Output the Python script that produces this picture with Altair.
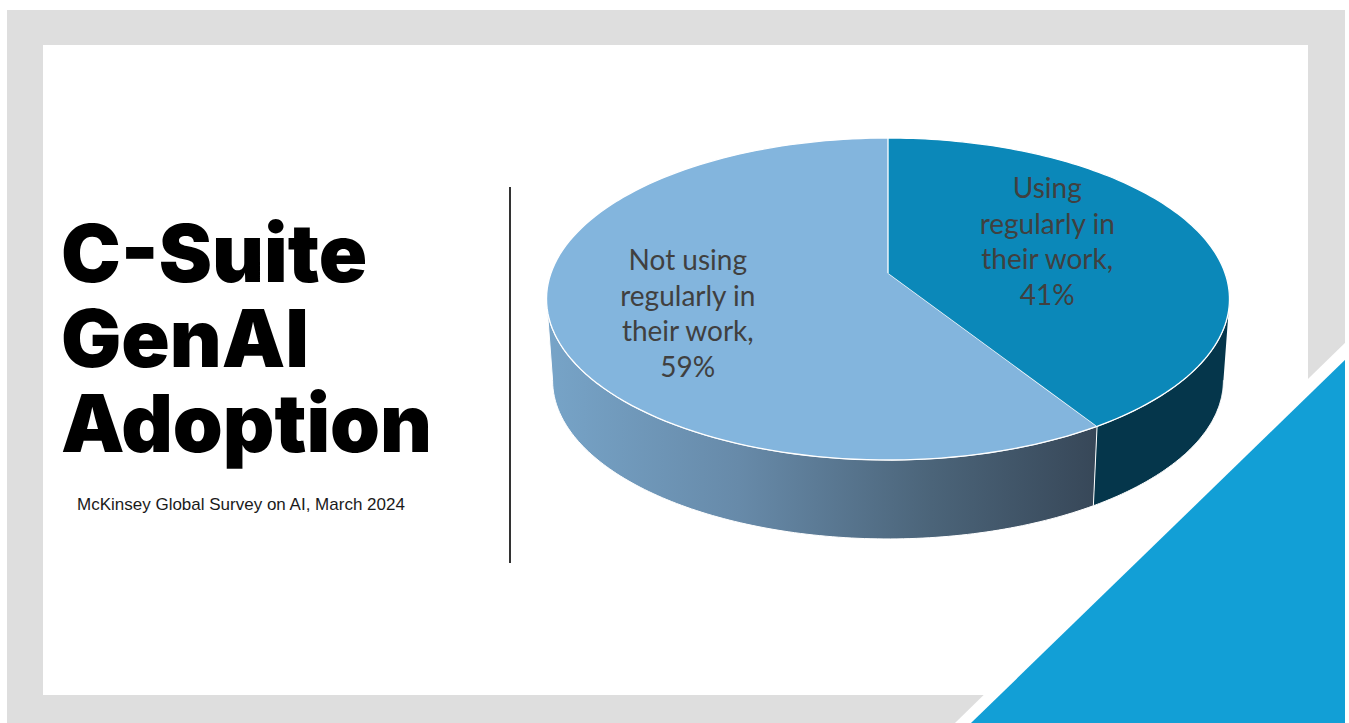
import math
import altair as alt
import pandas as pd

# ---------------- data ----------------
categories = ["Using regularly in their work", "Not using regularly in their work"]
values = [41, 59]

title_lines = ["C-Suite", "GenAI", "Adoption"]
subtitle = "McKinsey Global Survey on AI, March 2024"

# ---------------- layout / geometry constants (pixels) ----------------
W, H = 1349, 723
CX, CY = 888.0, 273.0          # projected centre of the pie top
A, B, K = 337.0, 156.8, -0.1615  # perspective of the top face
A2, B2, CY2 = 331.0, 154.4, 354.8  # perspective of the bottom face
N = 120
PHI_R = math.acos(K)
PHI_L = 2 * math.pi - PHI_R
LBL_SIZE, LBL_LH = 28, 35.5
LBL_RX, LBL_RY, LBL_DX, LBL_DY = 0.555, 0.82, -16, 5.2 - 1.5 * 35.5

TOP_COLORS = ["#0b88b9", "#83b5dd"]
WALL_DARK = "#05364b"
WALL_GRAD = alt.LinearGradient(
    gradient="linear",
    stops=[
        alt.GradientStop(color="#77a4c8", offset=0),
        alt.GradientStop(color="#678aa9", offset=0.35),
        alt.GradientStop(color="#4b6479", offset=0.7),
        alt.GradientStop(color="#374758", offset=1),
    ],
    x1=0, x2=1, y1=0, y2=0,
)

df = pd.DataFrame({"category": categories, "value": values})
one = pd.DataFrame({"k": [0]})

xs = alt.Scale(domain=[0, W], nice=False, zero=False)
ys = alt.Scale(domain=[0, H], nice=False, zero=False, reverse=True)


def X(f):
    return alt.X(f"{f}:Q", scale=xs, axis=None)


def Y(f):
    return alt.Y(f"{f}:Q", scale=ys, axis=None)


def rect(x, x2, y, y2, color):
    return alt.Chart(one).mark_rect(color=color).encode(
        x=alt.value(x), x2=alt.value(x2), y=alt.value(y), y2=alt.value(y2)
    )


def corner_fill(p1, p2, color, half=420, ext=1300):
    dx, dy = p2[0] - p1[0], p2[1] - p1[1]
    L = math.hypot(dx, dy)
    d = (dx / L, dy / L)
    n = (d[1], -d[0])
    c = (p1[0] + half * n[0], p1[1] + half * n[1])
    return alt.Chart(one).mark_rule(color=color, strokeWidth=2 * half, strokeCap="butt").encode(
        x=alt.value(c[0] - ext * d[0]), y=alt.value(c[1] - ext * d[1]),
        x2=alt.value(c[0] + ext * d[0]), y2=alt.value(c[1] + ext * d[1]),
    )


# ---------------- slide decoration ----------------
frame = rect(7, 1345, 10, 723, "#dedede")
inner = rect(43, 1308, 45, 695, "#ffffff")
white_cut = corner_fill((1345, 343), (955, 723), "#ffffff")
blue = corner_fill((1345, 360), (971, 723), "#129fd6")
edge = rect(1345, 1349, 0, 723, "#ffffff")
divider = alt.Chart(one).mark_rule(color="#333333", strokeWidth=2).encode(
    x=alt.value(510), y=alt.value(187), y2=alt.value(563)
)
title = alt.Chart(one).mark_text(
    text=title_lines, font="Inter", fontWeight=900, fontSize=80, lineHeight=85,
    align="left", baseline="top", color="#000000",
).encode(x=alt.value(61), y=alt.value(218.8))
sub = alt.Chart(one).mark_text(
    text=subtitle, font="Liberation Sans", fontSize=17, align="left",
    baseline="alphabetic", color="#1a1a1a",
).encode(x=alt.value(77), y=alt.value(510))

# ---------------- pie ----------------
base = alt.Chart(df).transform_window(
    cum="sum(value)", i="row_number()", frame=[None, 0]
).transform_joinaggregate(
    total="sum(value)"
).transform_calculate(
    a0="2 * PI * (datum.cum - datum.value) / datum.total",
    a1="2 * PI * datum.cum / datum.total",
)

top = base.transform_calculate(
    s=f"sequence(-1, {N + 1})"
).transform_flatten(["s"]).transform_calculate(
    phi=f"datum.s < 0 ? 0 : datum.a0 + (datum.a1 - datum.a0) * datum.s / {N}",
    rr="datum.s < 0 ? 0 : 1",
    u="datum.rr * sin(datum.phi)",
    v="-datum.rr * cos(datum.phi)",
    px=f"{CX} + {A} * datum.u / (1 + ({K}) * datum.v)",
    py=f"{CY} + {B} * datum.v / (1 + ({K}) * datum.v)",
)

wall = base.transform_calculate(
    b0=f"max(datum.a0, {PHI_R})",
    b1=f"min(datum.a1, {PHI_L})",
).transform_filter("datum.b1 > datum.b0").transform_calculate(
    s=f"sequence(0, {2 * N + 2})"
).transform_flatten(["s"]).transform_calculate(
    up=f"datum.s <= {N} ? 1 : 0",
    j=f"datum.s <= {N} ? datum.s : {2 * N + 1} - datum.s",
    phi=f"datum.b0 + (datum.b1 - datum.b0) * datum.j / {N}",
    u="sin(datum.phi)",
    v="-cos(datum.phi)",
    px=f"{CX} + (datum.up ? {A} : {A2}) * datum.u / (1 + ({K}) * datum.v)",
    py=f"(datum.up ? {CY} : {CY2}) + (datum.up ? {B} : {B2}) * datum.v / (1 + ({K}) * datum.v)",
)


def poly(chart, idx, fill, sw):
    return chart.transform_filter(f"datum.i == {idx}").mark_line(
        fill=fill, stroke="#ffffff", strokeWidth=sw, strokeJoin="round"
    ).encode(x=X("px"), y=Y("py"), order=alt.Order("s:Q"))


wall_left = poly(wall, 2, WALL_GRAD, 1.0)
wall_right = poly(wall, 1, WALL_DARK, 1.0)
top_right = poly(top, 1, TOP_COLORS[0], 1.3)
top_left = poly(top, 2, TOP_COLORS[1], 1.3)

labels = base.transform_calculate(
    m="(datum.a0 + datum.a1) / 2",
    u="sin(datum.m)",
    v="-cos(datum.m)",
    lx=f"{CX} + {A} * {LBL_RX} * datum.u / (1 + ({K}) * {LBL_RX} * datum.v) + ({LBL_DX})",
    ly=f"{CY} + {B} * {LBL_RY} * datum.v / (1 + ({K}) * {LBL_RY} * datum.v) + ({LBL_DY})",
    label="replace(datum.category, ' regularly in ', '\\nregularly in\\n') + ',\\n' + datum.value + '%'",
).mark_text(
    lineBreak="\n", font="Lato", fontSize=LBL_SIZE, lineHeight=LBL_LH, align="center",
    baseline="middle", color="#404040",
).encode(x=X("lx"), y=Y("ly"), text="label:N")

chart = alt.layer(
    frame, inner, white_cut, blue, edge, divider, title, sub,
    wall_left, wall_right, top_left, top_right, labels,
).properties(
    width=W, height=H, padding=0,
    autosize=alt.AutoSizeParams(type="none"),
    background="#ffffff",
).configure_view(stroke=None)

chart.save("out.html", embed_options={"renderer": "svg", "actions": False})
